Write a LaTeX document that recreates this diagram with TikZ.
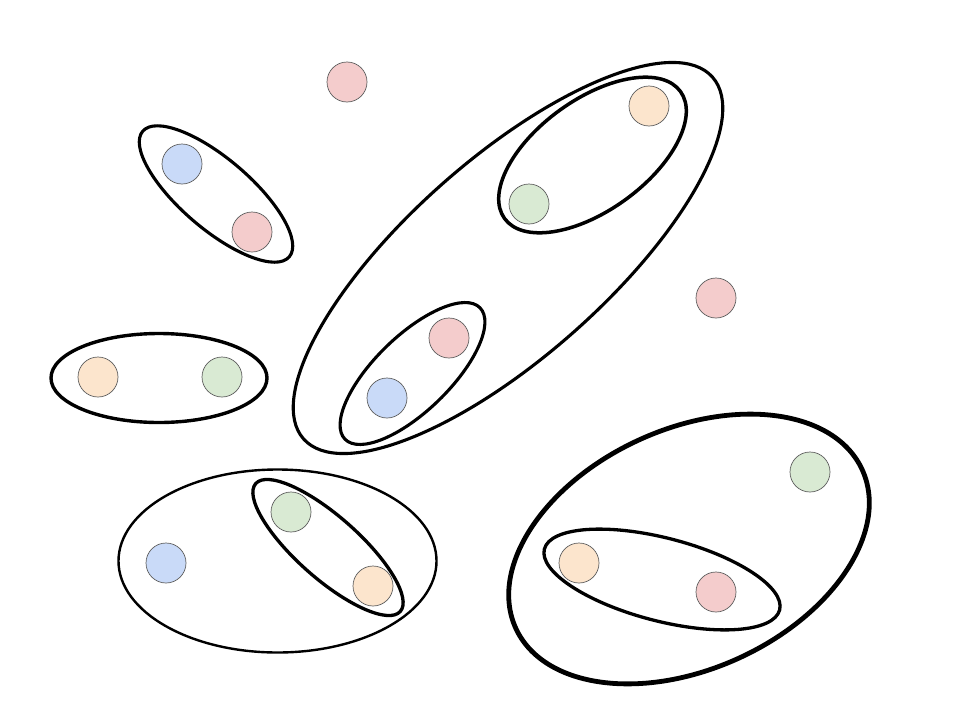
\documentclass[tikz,border=0pt]{standalone}
\usetikzlibrary{shapes.geometric}
\definecolor{cpink}{HTML}{F4CCCC}
\definecolor{cblue}{HTML}{C9DAF8}
\definecolor{cgreen}{HTML}{D9EAD3}
\definecolor{corange}{HTML}{FCE5CD}
\definecolor{cedge}{HTML}{5F5F5F}
\tikzset{
  dot/.style={circle, draw=cedge, line width=0.7pt, minimum size=40pt, inner sep=0pt},
  pinkdot/.style={dot, fill=cpink},
  bluedot/.style={dot, fill=cblue},
  greendot/.style={dot, fill=cgreen},
  orangedot/.style={dot, fill=corange},
  ring/.style={draw=black, line width=3.1pt},
}
\begin{document}
\begin{tikzpicture}[x=1pt,y=1pt]
\useasboundingbox[fill=white] (0,0) rectangle (960,-720);
% ellipses
\draw[ring, rotate around={-40.6:(216,-194)}] (216,-194) ellipse [x radius=96.5, y radius=35];
\draw[ring, line width=3.4pt] (159,-378) ellipse [x radius=108, y radius=44.5];
\draw[ring, rotate around={41.5:(508,-258)}] (508,-258) ellipse [x radius=273, y radius=99];
\draw[ring, line width=3.5pt, rotate around={35.8:(592.5,-155)}] (592.5,-155) ellipse [x radius=108.5, y radius=55.5];
\draw[ring, rotate around={44.2:(412.5,-373.5)}] (412.5,-373.5) ellipse [x radius=94.2, y radius=37.5];
\draw[ring, line width=2.4pt] (277.5,-561) ellipse [x radius=159, y radius=91.5];
\draw[ring, line width=3.3pt, rotate around={-41.5:(328,-547.5)}] (328,-547.5) ellipse [x radius=96.5, y radius=31];
\draw[ring, line width=4.8pt, rotate around={24.6:(689,-549)}] (689,-549) ellipse [x radius=190.5, y radius=120];
\draw[ring, line width=3.3pt, rotate around={-14.5:(662,-579.5)}] (662,-579.5) ellipse [x radius=121.5, y radius=41.5];
% dots
\node[pinkdot] (p1) at (347,-82) {};
\node[bluedot] (b1) at (182,-164) {};
\node[pinkdot] (p2) at (252,-232) {};
\node[orangedot] (o1) at (649,-106) {};
\node[greendot] (g1) at (529,-204) {};
\node[pinkdot] (p3) at (716,-298) {};
\node[pinkdot] (p4) at (449,-338) {};
\node[bluedot] (b2) at (387,-398) {};
\node[orangedot] (o2) at (98,-377) {};
\node[greendot] (g2) at (222,-377) {};
\node[greendot] (g3) at (291,-512) {};
\node[orangedot] (o3) at (373,-586) {};
\node[bluedot] (b3) at (166,-563) {};
\node[greendot] (g4) at (810,-472) {};
\node[orangedot] (o4) at (579,-563) {};
\node[pinkdot] (p5) at (716,-592) {};
\end{tikzpicture}
\end{document}
